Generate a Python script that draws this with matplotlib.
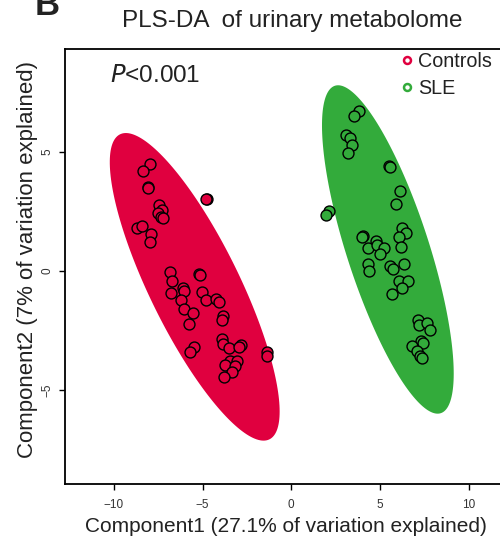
import matplotlib.pyplot as plt
import numpy as np
from matplotlib.lines import Line2D

plt.rcParams['font.family'] = ['Liberation Sans', 'DejaVu Sans']

# scores
ctrl_x = [-7.99, -8.36, -8.10, -8.07, -4.75, -4.79, -7.45, -7.28, -7.50, -7.37, -7.22,
          -8.72, -8.44, -7.90, -7.97, -6.84, -6.71, -5.19, -5.16, -6.09, -6.07, -6.77,
          -6.20, -5.05, -4.83, -4.25, -4.09, -6.07, -5.53, -5.75, -3.85, -3.91, -3.93,
          -3.85, -3.50, -2.85, -2.97, -5.47, -5.71, -1.35, -1.35, -3.46, -3.08, -3.72,
          -3.18, -3.36, -3.80]
ctrl_y = [4.51, 4.21, 3.55, 3.50, 3.02, 3.04, 2.76, 2.57, 2.43, 2.26, 2.24,
          1.82, 1.91, 1.56, 1.21, -0.05, -0.41, -0.13, -0.16, -0.73, -0.83, -0.94,
          -1.22, -0.87, -1.22, -1.18, -1.29, -1.60, -1.77, -2.23, -1.88, -2.07, -2.87,
          -3.06, -3.23, -3.10, -3.18, -3.21, -3.40, -3.42, -3.56, -3.79, -3.79, -3.95,
          -4.00, -4.26, -4.45]
sle_x = [3.80, 3.54, 3.09, 3.31, 3.44, 3.20, 5.53, 5.57, 6.13, 5.89, 2.11, 1.96,
         6.26, 6.47, 6.09, 6.19, 4.06, 3.97, 4.78, 4.31, 4.85, 5.25, 5.00, 4.34,
         4.40, 5.57, 5.72, 6.36, 6.09, 6.60, 6.24, 5.66, 7.16, 7.22, 7.64, 7.82,
         7.30, 7.45, 6.79, 7.11, 7.26, 7.39]
sle_y = [6.72, 6.51, 5.73, 5.58, 5.30, 4.95, 4.40, 4.38, 3.35, 2.82, 2.54, 2.36,
         1.81, 1.61, 1.42, 1.02, 1.49, 1.43, 1.27, 0.98, 1.08, 0.97, 0.70, 0.31,
         0.00, 0.21, 0.08, 0.31, -0.41, -0.42, -0.70, -0.95, -2.06, -2.28, -2.20, -2.48,
         -2.93, -3.04, -3.17, -3.37, -3.56, -3.67]

red = '#E0003F'
green = '#33AB3B'


def conf_ellipse(x, y, level_sd=2.4477, n=200):
    x = np.asarray(x)
    y = np.asarray(y)
    cov = np.cov(x, y)
    vals, vecs = np.linalg.eigh(cov)
    t = np.linspace(0, 2 * np.pi, n)
    circ = np.vstack([np.cos(t), np.sin(t)]) * np.sqrt(vals)[:, None] * level_sd
    pts = vecs @ circ
    return x.mean() + pts[0], y.mean() + pts[1]


fig = plt.figure(figsize=(5, 5.44), dpi=100)
ax = fig.add_axes([0.13, 0.1103, 0.9134, 0.7996])

ex, ey = conf_ellipse(ctrl_x, ctrl_y)
ax.fill(ex, ey, color=red, lw=0, zorder=1)
ex, ey = conf_ellipse(sle_x, sle_y, level_sd=2.38)
ax.fill(ex, ey, color=green, lw=0, zorder=1)

ax.scatter(ctrl_x, ctrl_y, s=62, facecolor=red, edgecolor='black', linewidth=1.0, zorder=3)
ax.scatter(sle_x, sle_y, s=62, facecolor=green, edgecolor='black', linewidth=1.0, zorder=3)

ax.set_xlim(-12.76, 13)
ax.set_ylim(-8.96, 9.34)
ax.set_xticks([-10, -5, 0, 5, 10])
ax.set_yticks([-5, 0, 5])
ax.tick_params(direction='out', length=4.5, width=1.0, labelsize=8.5, labelcolor='#333333', pad=6)
ax.tick_params(axis='y', pad=3.5)
plt.setp(ax.get_yticklabels(), rotation=90, va='center')
for sp in ax.spines.values():
    sp.set_linewidth(1.3)

ax.set_xlabel('Component1 (27.1% of variation explained)', fontsize=15, color='#222222')
ax.xaxis.set_label_coords(0.483, -0.077)
ax.set_ylabel('Component2 (7% of variation explained)', fontsize=16, color='#222222', va='center')
ax.yaxis.set_label_coords(-0.083, 0.515)

ax.text(-10.2, 8.2, r'$\it{P}$<0.001', fontsize=17.5, color='#222222', va='center', ha='left')

handles = [Line2D([], [], ls='none', marker='o', ms=5, mfc='white', mec=red, mew=1.8),
           Line2D([], [], ls='none', marker='o', ms=5, mfc='white', mec=green, mew=1.8)]
ax.legend(handles, ['Controls', 'SLE'], loc='upper left', bbox_to_anchor=(0.802, 0.905),
          bbox_transform=fig.transFigure, frameon=False, fontsize=14.2, handlelength=0.6,
          handletextpad=0.25, labelspacing=0.42, borderpad=0, borderaxespad=0, labelcolor='#222222')

fig.text(0.585, 0.961, 'PLS-DA  of urinary metabolome', fontsize=17.5, ha='center', va='center', color='#222222')
fig.text(0.07, 0.9724, 'B', fontsize=25, fontweight='bold', ha='left', va='baseline', color='#222222')

plt.savefig('out.png', dpi=100)
